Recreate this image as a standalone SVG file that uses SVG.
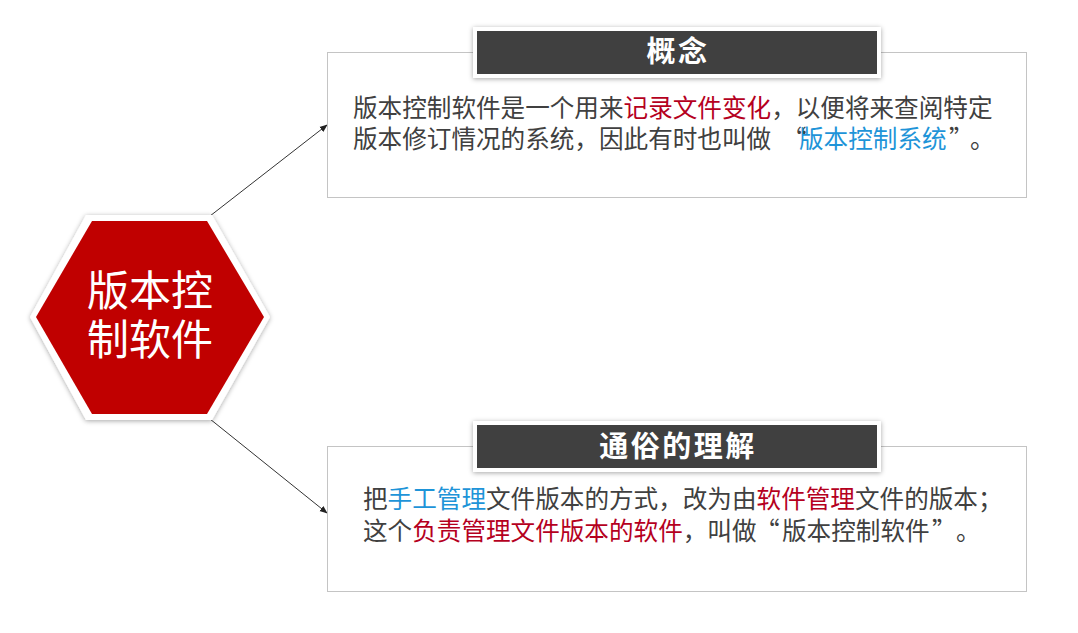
<svg xmlns="http://www.w3.org/2000/svg" width="1078" height="633" viewBox="0 0 1078 633">
  <defs>
    <filter id="shadow" x="-20%" y="-20%" width="140%" height="140%">
      <feDropShadow dx="0" dy="1" stdDeviation="2.5" flood-color="#000" flood-opacity="0.35"/>
    </filter>
    <marker id="arrow" viewBox="0 0 10 10" refX="9" refY="5" markerWidth="8" markerHeight="8" orient="auto" markerUnits="userSpaceOnUse">
      <path d="M0,1 L10,5 L0,9 z" fill="#222"/>
    </marker>
    <style>
      .cjk { font-family: "Noto Sans CJK SC", "Noto Sans", sans-serif; }
      .body { font-size: 24.6px; fill: #404040; }
      .red { fill: #b5001e; }
      .blue { fill: #1e94d8; }
      .title { font-size: 29px; font-weight: bold; fill: #ffffff; letter-spacing: 2.5px; }
      .panel { fill: #ffffff; stroke: #c4c4c4; stroke-width: 1; }
      .tab-outer { fill: #ffffff; }
      .tab-inner { fill: #404040; }
      .link { stroke: #333; stroke-width: 1; fill: none; }
    </style>
  </defs>

  <rect width="1078" height="633" fill="#ffffff"/>

  <!-- connectors -->
  <g id="connectors">
    <line class="link" x1="210" y1="216" x2="327" y2="125" marker-end="url(#arrow)"/>
    <line class="link" x1="210" y1="419" x2="327" y2="513" marker-end="url(#arrow)"/>
  </g>

  <!-- central hexagon -->
  <g id="hub">
    <polygon points="86,215 212,215 270,317 212,420 86,420 30,317" fill="#ffffff" filter="url(#shadow)"/>
    <polygon points="92,221 207,221 264,317 207,414 92,414 36,317" fill="#c00000"/>
    <text class="cjk" x="150" y="306" font-size="42" fill="#ffffff" text-anchor="middle">版本控</text>
    <text class="cjk" x="150" y="355" font-size="42" fill="#ffffff" text-anchor="middle">制软件</text>
  </g>

  <!-- concept panel -->
  <g id="concept">
    <rect class="panel" x="327.5" y="52.5" width="699" height="145"/>
    <rect class="tab-outer" x="473" y="27" width="408" height="51" filter="url(#shadow)"/>
    <rect class="tab-inner" x="477" y="31" width="400" height="43"/>
    <text class="cjk title" x="678" y="62" text-anchor="middle">概念</text>
    <text class="cjk body" x="353" y="117">版本控制软件是一个用来<tspan class="red">记录文件变化</tspan>，以便将来查阅特定</text>
    <text class="cjk body" x="353" y="148">版本修订情况的系统，因此有时也叫做<tspan x="782">“</tspan><tspan class="blue" x="799">版本控制系统</tspan><tspan x="949">”</tspan><tspan x="970">。</tspan></text>
  </g>

  <!-- plain-language panel -->
  <g id="plain">
    <rect class="panel" x="327.5" y="446.5" width="699" height="145"/>
    <rect class="tab-outer" x="473" y="421" width="408" height="51" filter="url(#shadow)"/>
    <rect class="tab-inner" x="477" y="425" width="400" height="43"/>
    <text class="cjk title" x="678" y="457" text-anchor="middle">通俗的理解</text>
    <text class="cjk body" x="363" y="508">把<tspan class="blue">手工管理</tspan>文件版本的方式，改为由<tspan class="red">软件管理</tspan>文件的版本；</text>
    <text class="cjk body" x="363" y="540">这个<tspan class="red">负责管理文件版本的软件</tspan>，叫做<tspan x="755">“</tspan><tspan x="782">版本控制软件</tspan><tspan x="932">”</tspan><tspan x="956">。</tspan></text>
  </g>
</svg>
